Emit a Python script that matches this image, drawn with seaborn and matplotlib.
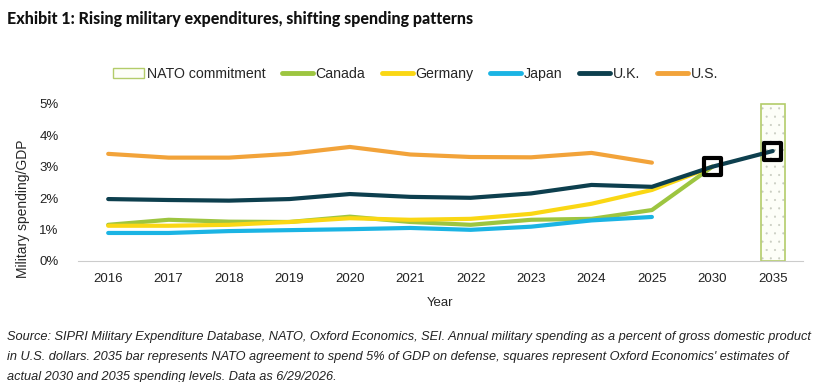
import numpy as np
import pandas as pd
import matplotlib
matplotlib.use("Agg")
import matplotlib.pyplot as plt
import seaborn as sns
from matplotlib.lines import Line2D
from matplotlib.patches import Patch

# Data (percent of GDP)
years = ["2016", "2017", "2018", "2019", "2020", "2021", "2022", "2023", "2024", "2025", "2030", "2035"]
canada = [1.15, 1.31, 1.25, 1.24, 1.41, 1.24, 1.15, 1.31, 1.34, 1.62, 3.0, np.nan]
germany = [1.12, 1.12, 1.15, 1.24, 1.36, 1.31, 1.34, 1.50, 1.82, 2.26, 3.0, np.nan]
japan = [0.89, 0.89, 0.95, 0.98, 1.01, 1.05, 0.99, 1.09, 1.29, 1.40, np.nan, np.nan]
uk = [1.97, 1.94, 1.92, 1.97, 2.13, 2.04, 2.01, 2.15, 2.42, 2.36, 3.0, 3.5]
us = [3.41, 3.29, 3.29, 3.41, 3.63, 3.39, 3.31, 3.30, 3.44, 3.13, np.nan, np.nan]
nato_year = ["2035"]
nato_value = [5.0]
estimate_years = ["2030", "2035"]
estimate_values = [3.0, 3.5]

countries = ["Canada", "Germany", "Japan", "U.K.", "U.S."]
colors = {"Canada": "#9DC540", "Germany": "#FAD714", "Japan": "#1BB4E4",
          "U.K.": "#0D3F4E", "U.S.": "#F2A33A"}

df = pd.DataFrame({"Year": years * 5,
                   "Country": np.repeat(countries, len(years)),
                   "Value": canada + germany + japan + uk + us}).dropna()

sns.set_style("white")
plt.rcParams["font.family"] = ["Liberation Sans", "DejaVu Sans"]
plt.rcParams["hatch.linewidth"] = 0.3

fig = plt.figure(figsize=(8.21, 3.82), dpi=100)
ax = fig.add_axes([0.095, 0.317, 0.883, 0.415])

# U.K. first so the 2035 category lands last on the axis
order = ["U.K.", "Canada", "Germany", "Japan", "U.S."]
for c in order:
    sns.lineplot(data=df[df["Country"] == c], x="Year", y="Value", color=colors[c],
                 linewidth=3, ax=ax, sort=False, zorder=3 if c == "U.K." else 2)

# NATO bar: dotted fill, then the green outline
ax.bar(nato_year, nato_value, width=0.4, facecolor="#FDFEF8", edgecolor="#C8CCC0",
       hatch="..", linewidth=0, zorder=1)
ax.bar(nato_year, nato_value, width=0.4, facecolor="none", edgecolor="#B3CC6A",
       linewidth=1.2, zorder=1)

ax.scatter(estimate_years, estimate_values, marker="s", s=150, facecolors="none",
           edgecolors="black", linewidths=3, zorder=5)

ax.set_xlim(-0.5, 11.5)
ax.set_ylim(0, 5.05)
ax.set_yticks([0, 1, 2, 3, 4, 5])
ax.set_yticklabels(["0%", "1%", "2%", "3%", "4%", "5%"])
ax.tick_params(axis="both", labelsize=9.5, colors="#222222", length=0, pad=9)
ax.tick_params(axis="y", pad=14)
for s in ["top", "right", "left"]:
    ax.spines[s].set_visible(False)
ax.spines["bottom"].set_color("#CCCCCC")
ax.set_xlabel("Year", fontsize=9.5, labelpad=8)
ax.set_ylabel("Military spending/GDP", fontsize=10)
ax.yaxis.set_label_coords(-0.066, 0.33)

handles = [Patch(facecolor="#FDFEF8", edgecolor="#B3CC6A", label="NATO commitment")]
for c in countries:
    handles.append(Line2D([0], [0], color=colors[c], linewidth=3.5, label=c))
fig.legend(handles=handles, loc="center", bbox_to_anchor=(0.506, 0.806), ncol=6,
           frameon=False, fontsize=10.2, handlelength=2.2, handletextpad=0.2,
           columnspacing=1.15)

fig.text(0.008, 0.937, "Exhibit 1: Rising military expenditures, shifting spending patterns",
         fontsize=11.5, fontweight="black", color="#111111", family=["Lato", "DejaVu Sans"])

source = ("Source: SIPRI Military Expenditure Database, NATO, Oxford Economics, SEI. Annual military spending as a percent of gross domestic product\n"
          "in U.S. dollars. 2035 bar represents NATO agreement to spend 5% of GDP on defense, squares represent Oxford Economics' estimates of\n"
          "actual 2030 and 2035 spending levels. Data as 6/29/2026.")
fig.text(0.008, 0.133, source, fontsize=9.2, style="italic", color="#222222",
         va="top", linespacing=1.9)

fig.savefig("out.png", dpi=100)
